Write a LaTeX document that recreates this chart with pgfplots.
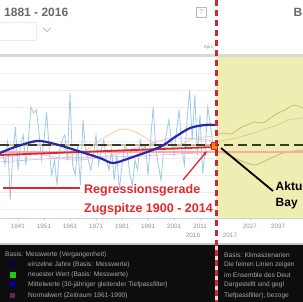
\documentclass[border=0pt]{standalone}
\usepackage{fontspec}
\setmainfont{Liberation Sans}
\usepackage{pgfplots}
\pgfplotsset{compat=1.18}
\usetikzlibrary{arrows.meta}
\definecolor{yellowbg}{HTML}{EEEDB2}
\definecolor{spike}{HTML}{9CCBEA}
\definecolor{meanblue}{HTML}{2828A8}
\definecolor{regred}{HTML}{E02828}
\definecolor{labred}{HTML}{E8282C}
\definecolor{vred}{HTML}{C8283C}
\definecolor{khaki}{HTML}{C8BE6E}
\definecolor{normdark}{HTML}{3A3A28}
\definecolor{normlight}{HTML}{C8C090}
\definecolor{legtext}{HTML}{A8A8A8}
\definecolor{hdrgray}{HTML}{6A6A6A}
\begin{document}
\begin{tikzpicture}[x=1pt,y=1pt]
\useasboundingbox (0,0) rectangle (303,302);
\clip (0,0) rectangle (303,302);
\fill[white] (0,0) rectangle (303,302);
% header
\node[anchor=west, inner sep=0pt, text=hdrgray, font=\fontsize{12}{12}\selectfont\bfseries] at (4,290) {1881 - 2016};
\draw[gray!55, line width=0.6] (196,285) rectangle (206,295);
\node[inner sep=0pt, text=gray!70, font=\fontsize{7}{7}\selectfont] at (201,290) {?};
\node[anchor=west, inner sep=0pt, text=hdrgray, font=\fontsize{12}{12}\selectfont\bfseries] at (293.3,290) {B};
\draw[gray!15] (-1,262) rectangle (36,280);
\draw[gray!60, line width=0.7] (43,274) -- (47,270.5) -- (51,274);
\node[anchor=east, inner sep=0pt, text=gray!80, font=\fontsize{4.5}{5}\selectfont] at (213,255) {April};
\fill[gray!30] (0,245) rectangle (303,247.5);
% plot
\begin{axis}[at={(0,84)}, anchor=south west, scale only axis,
  width=303pt, height=161pt,
  xmin=1934.08, xmax=2050.6, ymin=0, ymax=161,
  axis x line*=bottom, axis y line*=left,
  x axis line style={gray!35, -}, y axis line style={draw=none},
  xtick={1941,1951,1961,1971,1981,1991,2001,2011,2030.2,2041},
  xticklabels={1941,1951,1961,1971,1981,1991,2001,2011,2027,2037},
  xticklabel style={font=\fontsize{6.3}{7}\selectfont, text=gray!85},
  x tick style={gray!50}, major tick length=2.5pt, tick align=outside,
  ytick={9,26,43,60,77,94,111,128,145}, yticklabels={}, y tick style={draw=none},
  ymajorgrids, grid style={gray!13, line width=0.6},
  /pgf/number format/assume math mode=true,
]
\fill[yellowbg] (axis cs:2017.15,0) rectangle (axis cs:2050.6,161);
% faint smoothed lines left
\addplot[smooth, no marks, line width=0.7, color=orange!45] coordinates {(1958,60) (1966,66) (1974,80) (1981,89) (1987,85) (1994,74) (2001,70) (2008,79) (2016.5,82)};
\addplot[smooth, no marks, line width=0.7, color=magenta!30] coordinates {(1934.1,60) (1948,64) (1962,58) (1976,62) (1989,72) (2001,80) (2016.5,77)};
\addplot[smooth, no marks, line width=0.6, color=violet!30] coordinates {(1934.1,56) (1958,60) (1988,62) (2016.5,66)};
% scenario lines right
\addplot[smooth, no marks, line width=0.8, color=khaki] coordinates {(2017.2,83) (2020,85) (2023,84) (2026.4,90) (2029,93) (2032.2,96) (2035,95) (2038,100) (2041,105) (2043.7,108) (2046,112) (2047.5,113) (2050.6,110)};
\addplot[smooth, no marks, line width=0.7, color=khaki!80] coordinates {(2017.2,76) (2021,78) (2025,80) (2029,83) (2033,86) (2037,90) (2040,92) (2045,98) (2050.6,100)};
\addplot[smooth, no marks, line width=0.8, color=khaki] coordinates {(2017.2,68) (2020,65) (2023,62) (2026,58) (2028,56) (2032,53) (2036,57) (2040,62) (2044,66) (2047,67) (2050.6,68)};
% yearly values
\addplot[no marks, line width=0.8, color=spike] coordinates {
(1935,68) (1936,53) (1937,78) (1938,18) (1939,63) (1940,91) (1941,48) (1942,73) (1943,83) (1944,53)
(1945,78) (1946,111) (1947,105) (1948,108) (1949,88) (1950,58) (1951,78) (1952,106) (1953,68) (1954,43)
(1955,58) (1956,33) (1957,68) (1958,78) (1959,83) (1960,58) (1961,125) (1962,53) (1963,43) (1964,73)
(1965,33) (1966,98) (1967,68) (1968,58) (1969,48) (1970,63) (1971,83) (1972,53) (1973,68) (1974,78)
(1975,58) (1976,48) (1977,68) (1978,38) (1979,63) (1980,28) (1981,53) (1982,73) (1983,68) (1984,43)
(1985,33) (1986,58) (1987,48) (1988,78) (1989,68) (1990,73) (1991,43) (1992,78) (1993,111) (1994,68)
(1995,53) (1996,38) (1997,68) (1998,83) (1999,98) (2000,78) (2001,63) (2002,88) (2003,108) (2004,68)
(2005,53) (2006,98) (2007,128) (2008,78) (2009,123) (2010,63) (2011,103) (2012,45) (2013,68) (2014,111)
(2015,93) (2016,72)};
% normal value
\addplot[no marks, line width=2, color=normlight] coordinates {(1934.08,73) (2017.15,73)};
\addplot[no marks, line width=2, color=normdark, dash pattern=on 9pt off 5pt] coordinates {(1934.08,73) (2050.6,73)};
% pink line
\addplot[no marks, line width=1.1, color=red!35] coordinates {(1934.08,66) (2050.6,66)};
% regression line
\addplot[no marks, line width=1.8, color=regred] coordinates {(1934.08,63) (2016.8,71)};
% 30-year mean
\addplot[smooth, no marks, line width=2.2, color=meanblue] coordinates {
(1934.1,65) (1939.9,71) (1948.3,77) (1955.2,74) (1962.9,68) (1972.5,60) (1977.5,55) (1984.1,60)
(1995.6,71) (2001.4,81) (2007.2,90) (2012.9,93) (2016.8,93)};
% latest value
\addplot[only marks, mark=square*, mark size=3.3pt, mark options={fill=orange!90!yellow, draw=regred, line width=0.8}] coordinates {(2016.6,72)};
\end{axis}
% extra x labels
\node[inner sep=0pt, text=gray!85, font=\fontsize{6.3}{7}\selectfont] at (193,67) {2016};
\node[inner sep=0pt, text=gray!85, font=\fontsize{6.3}{7}\selectfont] at (230,67) {2017};
% annotations
\draw[line width=1.8, black] (273,111) -- (221,154);
\draw[line width=1.3, regred, -{Latex[length=4pt,width=4pt]}] (183,122) -- (207,151);
\draw[line width=1.8, regred] (3,114) -- (80,114);
\node[anchor=west, inner sep=0pt, text=labred, font=\fontsize{12.5}{13}\selectfont\bfseries] at (84,112) {Regressionsgerade};
\node[anchor=west, inner sep=0pt, text=labred, font=\fontsize{12.5}{13}\selectfont\bfseries] at (84,93) {Zugspitze 1900 - 2014};
\node[anchor=west, inner sep=0pt, text=black, font=\fontsize{12}{13}\selectfont\bfseries] at (275.5,116) {Aktu};
\node[anchor=west, inner sep=0pt, text=black, font=\fontsize{12}{13}\selectfont\bfseries] at (275.5,98) {Bay};
% legend panel
\fill[black!95] (0,0) rectangle (303,58);
\fill[gray!45] (0,57) rectangle (303,58.5);
\begin{scope}[every node/.style={anchor=west, inner sep=0pt, text=legtext, font=\fontsize{6.6}{7}\selectfont}]
\node at (5,47) {Basis: Messwerte (Vergangenheit)};
\node at (28,37) {einzelne Jahre (Basis: Messwerte)};
\node at (28,27) {neuester Wert (Basis: Messwerte)};
\node at (28,17) {Mittelwerte (30-jähriger gleitender Tiefpassfilter)};
\node at (28,6) {Normalwert (Zeitraum 1961-1990)};
\node at (224,47) {Basis: Klimaszenarien};
\node at (224,37) {Die feinen Linien zeigen};
\node at (224,27) {im Ensemble des Deut};
\node at (224,17) {Dargestellt sind gegl};
\node at (224,6) {Tiefpassfilter), bezoge};
\end{scope}
\fill[blue!35!black] (10,35) rectangle (15,40);
\fill[green!75!black!90!white] (9.5,24) rectangle (15.5,30);
\fill[blue!70!black] (10,14.5) rectangle (15,19.5);
\fill[violet!50!gray!70!black] (10,3.5) rectangle (15,8.5);
% vertical dashed line
\draw[line width=3, white!80!red] (216,0) -- (216,58);
\draw[line width=3, vred, dash pattern=on 6pt off 4pt] (216,302) -- (216,0);
\end{tikzpicture}
\end{document}
